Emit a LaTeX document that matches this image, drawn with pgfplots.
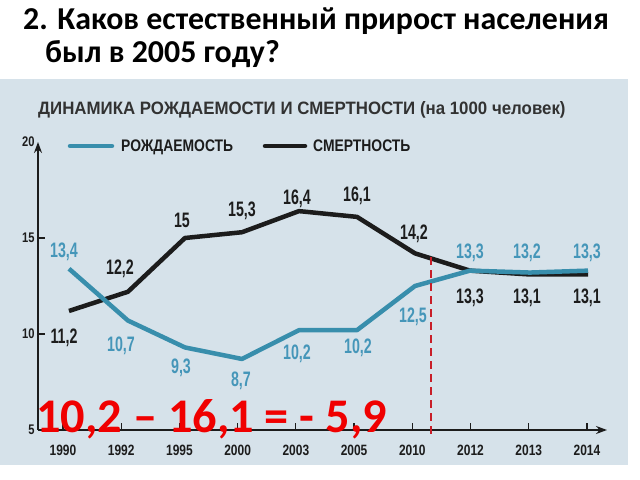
\documentclass[border=0pt]{standalone}
\usepackage{pgfplots}
\pgfplotsset{compat=1.18}
\usetikzlibrary{arrows.meta}
\usepackage{fontspec}
\setmainfont{Carlito}
\newfontfamily\condL[FakeStretch=0.68]{Liberation Sans}
\newfontfamily\condT[FakeStretch=0.80]{Liberation Sans}
\newfontfamily\condG[FakeStretch=0.83]{Liberation Sans}
\newfontfamily\condS[FakeStretch=0.94]{Liberation Sans}
\definecolor{panel}{RGB}{214,226,234}
\definecolor{blueline}{RGB}{56,142,172}
\definecolor{bluetext}{RGB}{69,150,185}
\definecolor{ink}{RGB}{28,28,28}
\definecolor{subgray}{RGB}{50,50,50}
\definecolor{reddash}{RGB}{200,30,40}
\definecolor{redtext}{RGB}{240,0,0}
\tikzset{
  blab/.style={text=bluetext, anchor=base, inner sep=0, font=\condL\bfseries\fontsize{21}{22}\selectfont},
  klab/.style={text=ink, anchor=base, inner sep=0, font=\condL\bfseries\fontsize{21}{22}\selectfont},
}
\begin{document}
\begin{tikzpicture}
\fill[white] (0,0) rectangle (640bp,480bp);
\fill[panel] (0,15bp) rectangle (628bp,401bp);
\node[anchor=base west, inner sep=0, font=\fontsize{32}{36}\selectfont\bfseries] at (23bp,450bp) {2. Каков естественный прирост населения};
\node[anchor=base west, inner sep=0, font=\fontsize{32}{36}\selectfont\bfseries] at (45bp,417bp) {был в 2005 году?};
\node[anchor=base west, inner sep=0, text=subgray, font=\condS\bfseries\fontsize{18}{20}\selectfont] at (38bp,365bp) {ДИНАМИКА РОЖДАЕМОСТИ И СМЕРТНОСТИ (на 1000 человек)};
\draw[blueline, line width=4.5bp, line cap=round] (70bp,334bp) -- (112bp,334bp);
\node[anchor=base west, inner sep=0, text=ink, font=\condG\bfseries\fontsize{16.8}{18}\selectfont] at (121bp,328bp) {РОЖДАЕМОСТЬ};
\draw[ink, line width=4.5bp, line cap=round] (265bp,334bp) -- (305bp,334bp);
\node[anchor=base west, inner sep=0, text=ink, font=\condG\bfseries\fontsize{16.8}{18}\selectfont] at (313bp,328bp) {СМЕРТНОСТЬ};
\begin{axis}[
  at={(38bp,50bp)}, anchor=south west,
  scale only axis, width=569bp, height=288bp,
  xmin=-0.429, xmax=9.344, ymin=5, ymax=20,
  axis lines=left, clip=false,
  axis line style={ink, line width=1.6bp, -{Stealth[length=11bp,width=8bp]}},
  tick align=inside, major tick length=7bp,
  tick style={ink, line width=1.2bp},
  xtick={0,1,2,3,4,5,6,7,8,9},
  xticklabels={1990,1992,1995,2000,2003,2005,2010,2012,2013,2014},
  ytick={5,10,15},
  extra y ticks={20},
  extra y tick style={major tick length=0pt},
  xticklabel style={text=ink, yshift=-12bp, font=\condT\bfseries\fontsize{15}{16}\selectfont},
  yticklabel style={text=ink, font=\condT\bfseries\fontsize{14}{15}\selectfont},
  /pgf/number format/assume math mode=true,
]
\addplot[ink, line width=4.5bp, line join=round] coordinates {
 (0.103,11.2)(1.116,12.2)(2.095,15)(3.074,15.3)(4.054,16.4)(5.05,16.1)(6.046,14.2)(6.99,13.3)(8.02,13.1)(9.018,13.1)};
\addplot[blueline, line width=4.5bp, line join=round] coordinates {
 (0.103,13.4)(1.116,10.7)(2.095,9.3)(3.074,8.7)(4.054,10.2)(5.05,10.2)(6.046,12.5)(6.99,13.3)(8.02,13.2)(9.018,13.3)};
\addplot[reddash, line width=2.5bp, dash pattern=on 8bp off 5bp] coordinates {(6.32,14.0)(6.32,4.64)};
\node[blab] at (axis cs:0.017,13.98) {13,4};
\node[blab] at (axis cs:0.996,9.09) {10,7};
\node[blab] at (axis cs:2.027,7.94) {9,3};
\node[blab] at (axis cs:3.057,7.27) {8,7};
\node[blab] at (axis cs:4.019,8.67) {10,2};
\node[blab] at (axis cs:5.067,8.98) {10,2};
\node[blab] at (axis cs:6.012,10.60) {12,5};
\node[blab] at (axis cs:6.991,13.93) {13,3};
\node[blab] at (axis cs:7.97,13.93) {13,2};
\node[blab] at (axis cs:9.0,13.93) {13,3};
\node[klab] at (axis cs:0.017,9.505) {11,2};
\node[klab] at (axis cs:0.979,13.10) {12,2};
\node[klab] at (axis cs:2.044,15.55) {15};
\node[klab] at (axis cs:3.074,16.12) {15,3};
\node[klab] at (axis cs:4.019,16.745) {16,4};
\node[klab] at (axis cs:5.05,16.90) {16,1};
\node[klab] at (axis cs:6.029,14.92) {14,2};
\node[klab] at (axis cs:6.99,11.59) {13,3};
\node[klab] at (axis cs:7.97,11.59) {13,1};
\node[klab] at (axis cs:9.0,11.59) {13,1};
\end{axis}
\node[anchor=base west, inner sep=0, text=redtext, font=\fontsize{48.5}{52}\selectfont\bfseries] at (36bp,47bp) {10,2 – 16,1 = - 5,9};
\end{tikzpicture}
\end{document}
